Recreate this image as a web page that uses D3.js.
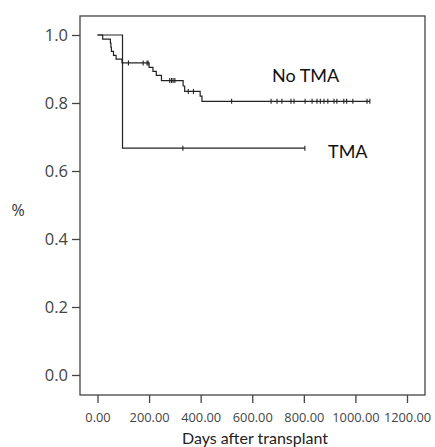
<!DOCTYPE html>
<html>
<head>
<meta charset="utf-8">
<script src="https://cdn.jsdelivr.net/npm/d3@7"></script>
<style>
  body { margin: 0; background: #fff; }
</style>
</head>
<body>
<svg id="drawing_region"></svg>
<script>
// Kaplan-Meier steps (days, survival)
const noTmaTimes = [0, 20, 50, 52, 54, 62, 72, 95, 200, 215, 228, 248, 332, 338, 398, 405, 1056];
const noTmaSurv  = [1, 0.988, 0.976, 0.964, 0.952, 0.940, 0.929, 0.918, 0.905, 0.893, 0.881, 0.866, 0.850, 0.834, 0.820, 0.805, 0.805];
const noTmaCensored = [120, 177, 192, 196, 280, 287, 293, 300, 352, 372, 520, 673, 696, 715, 750, 762,
                       805, 832, 851, 864, 878, 893, 917, 928, 955, 966, 990, 1045, 1056];

const tmaTimes = [0, 97, 804];
const tmaSurv  = [1, 0.667, 0.667];
const tmaCensored = [331, 804];

const xTicks = [0, 200, 400, 600, 800, 1000, 1200];
const yTicks = [0, 0.2, 0.4, 0.6, 0.8, 1.0];

const config = {
    width: 435,
    height: 447,
    frame: {left: 80, top: 16, right: 425, bottom: 395},
    xrange: [97.5, 407],
    yrange: [375, 35]
};

const svg = d3.select('#drawing_region')
    .attr('width', config.width)
    .attr('height', config.height);

const xscale = d3.scaleLinear().domain([0, 1200]).range(config.xrange);
const yscale = d3.scaleLinear().domain([0, 1]).range(config.yrange);

// plot frame
svg.append('rect')
    .attr('x', config.frame.left)
    .attr('y', config.frame.top)
    .attr('width', config.frame.right - config.frame.left)
    .attr('height', config.frame.bottom - config.frame.top)
    .attr('fill', 'none')
    .attr('stroke', '#444')
    .attr('stroke-width', 1.3);

// axes
const yaxis = d3.axisLeft(yscale)
    .tickValues(yTicks)
    .tickFormat(d3.format('.1f'))
    .tickSize(8)
    .tickPadding(4);

const xaxis = d3.axisBottom(xscale)
    .tickValues(xTicks)
    .tickFormat(d3.format('.2f'))
    .tickSize(8)
    .tickPadding(10);

const yaxis_group = svg.append('g')
    .attr('transform', `translate(${config.frame.left}, 0)`)
    .call(yaxis);
yaxis_group.select('.domain').remove();
yaxis_group.selectAll('line').attr('stroke', '#444').attr('stroke-width', 1.3);
yaxis_group.selectAll('text')
    .attr('fill', '#444')
    .attr('font-family', '"Open Sans", sans-serif')
    .attr('font-size', '16.5px');

const xaxis_group = svg.append('g')
    .attr('transform', `translate(0, ${config.frame.bottom})`)
    .call(xaxis);
xaxis_group.select('.domain').remove();
xaxis_group.selectAll('line').attr('stroke', '#444').attr('stroke-width', 1.3);
xaxis_group.selectAll('text')
    .attr('fill', '#444')
    .attr('font-family', '"Open Sans", sans-serif')
    .attr('font-size', '12.8px');

// axis titles
svg.append('text')
    .attr('x', 255)
    .attr('y', 444)
    .attr('text-anchor', 'middle')
    .attr('font-family', 'Lato, sans-serif')
    .attr('font-size', '16px')
    .attr('fill', '#222')
    .text('Days after transplant');

svg.append('text')
    .attr('x', 18)
    .attr('y', 216)
    .attr('text-anchor', 'middle')
    .attr('font-family', '"Open Sans", sans-serif')
    .attr('font-size', '16px')
    .attr('fill', '#333')
    .text('%');

// survival curves
const line = d3.line()
    .x(d => xscale(d.t))
    .y(d => yscale(d.s))
    .curve(d3.curveStepAfter);

function survAt(times, surv, t) {
    let s = surv[0];
    times.forEach((tt, i) => { if (tt <= t) s = surv[i]; });
    return s;
}

const curves = [
    {times: noTmaTimes, surv: noTmaSurv, censored: noTmaCensored},
    {times: tmaTimes, surv: tmaSurv, censored: tmaCensored}
];

curves.forEach(c => {
    const pts = c.times.map((t, i) => ({t: t, s: c.surv[i]}));
    svg.append('path')
        .datum(pts)
        .attr('d', line)
        .attr('fill', 'none')
        .attr('stroke', '#222')
        .attr('stroke-width', 1.2);

    svg.selectAll(null)
        .data(c.censored)
        .enter()
        .append('line')
        .attr('x1', d => xscale(d))
        .attr('x2', d => xscale(d))
        .attr('y1', d => yscale(survAt(c.times, c.surv, d)) - 2.5)
        .attr('y2', d => yscale(survAt(c.times, c.surv, d)) + 2.5)
        .attr('stroke', '#222')
        .attr('stroke-width', 1.1);
});

// curve labels
svg.append('text')
    .attr('x', 272)
    .attr('y', 82)
    .attr('font-family', 'Lato, sans-serif')
    .attr('font-size', '18px')
    .attr('fill', '#111')
    .text('No TMA');

svg.append('text')
    .attr('x', 328)
    .attr('y', 158)
    .attr('font-family', 'Lato, sans-serif')
    .attr('font-size', '18px')
    .attr('fill', '#111')
    .text('TMA');
</script>
</body>
</html>
